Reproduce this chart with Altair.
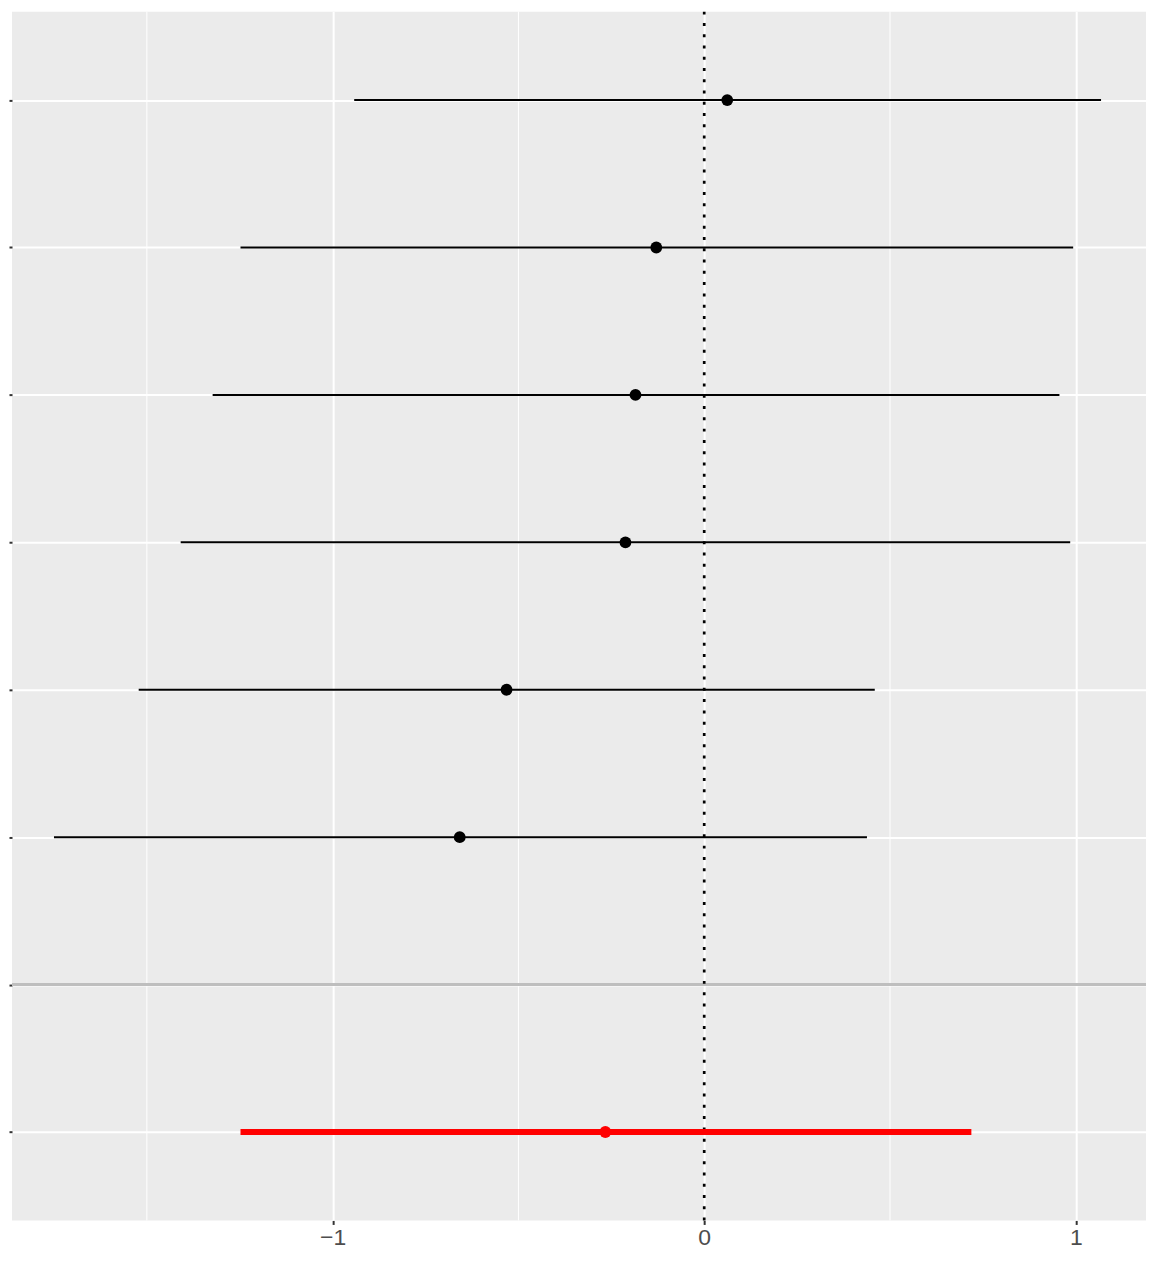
import altair as alt
import pandas as pd

# Row order (top to bottom); labels are hidden in the reference
rows = ["Study 1", "Study 2", "Study 3", "Study 4", "Study 5", "Study 6", "sep", "Overall"]

study_rows = ["Study 1", "Study 2", "Study 3", "Study 4", "Study 5", "Study 6"]
study_est = [0.062, -0.129, -0.185, -0.212, -0.532, -0.658]
study_lo = [-0.942, -1.248, -1.323, -1.409, -1.522, -1.750]
study_hi = [1.068, 0.993, 0.956, 0.985, 0.459, 0.438]

overall_row = ["Overall"]
overall_est = [-0.266]
overall_lo = [-1.248]
overall_hi = [0.719]

major_ticks = [-1, 0, 1]
minor_ticks = [-1.5, -0.5, 0.5]
x_domain = [-1.863, 1.189]

studies = pd.DataFrame({"row": study_rows, "est": study_est, "lo": study_lo, "hi": study_hi})
overall = pd.DataFrame({"row": overall_row, "est": overall_est, "lo": overall_lo, "hi": overall_hi})
minor = pd.DataFrame({"x": minor_ticks})
sep = pd.DataFrame({"row": ["sep"]})
zero = pd.DataFrame({"x": [0]})

FONT = "Liberation Sans"

xscale = alt.Scale(domain=x_domain, nice=False, zero=False)
yscale = alt.Scale(type="point", domain=rows, padding=0.6)

xaxis = alt.Axis(
    values=major_ticks, format="d", title=None, grid=True, gridColor="white", gridWidth=2,
    domain=False, tickColor="#333333", tickSize=4, tickWidth=2,
    labelColor="#4D4D4D", labelFontSize=23, labelFont=FONT, labelPadding=2,
)
yaxis = alt.Axis(
    title=None, labels=False, grid=True, gridColor="white", gridWidth=2,
    domain=False, tickColor="#333333", tickSize=3, tickWidth=2,
)

minor_grid = alt.Chart(minor).mark_rule(color="white", strokeWidth=1).encode(
    x=alt.X("x:Q", scale=xscale, axis=xaxis)
)

sep_line = alt.Chart(sep).mark_rule(color="#BEBEBE", strokeWidth=3).encode(
    y=alt.Y("row:N", scale=yscale, axis=yaxis)
)

zero_line = alt.Chart(zero).mark_rule(color="black", strokeWidth=2.7, strokeDash=[3, 8.3]).encode(
    x=alt.X("x:Q", scale=xscale, axis=xaxis)
)

study_bars = alt.Chart(studies).mark_rule(color="black", strokeWidth=2).encode(
    x=alt.X("lo:Q", scale=xscale, axis=xaxis),
    x2="hi:Q",
    y=alt.Y("row:N", scale=yscale, axis=yaxis),
)
study_pts = alt.Chart(studies).mark_circle(color="black", size=140, opacity=1).encode(
    x=alt.X("est:Q", scale=xscale, axis=xaxis),
    y=alt.Y("row:N", scale=yscale, axis=yaxis),
)

overall_bar = alt.Chart(overall).mark_rule(color="#FF0000", strokeWidth=6).encode(
    x=alt.X("lo:Q", scale=xscale, axis=xaxis),
    x2="hi:Q",
    y=alt.Y("row:N", scale=yscale, axis=yaxis),
)
overall_pt = alt.Chart(overall).mark_circle(color="#FF0000", size=140, opacity=1).encode(
    x=alt.X("est:Q", scale=xscale, axis=xaxis),
    y=alt.Y("row:N", scale=yscale, axis=yaxis),
)

chart = alt.layer(
    minor_grid, sep_line, zero_line, study_bars, overall_bar, study_pts, overall_pt
).properties(
    width=1137, height=1212, padding=0, background="white"
).configure_view(
    fill="#EBEBEB", stroke=None
).configure_axis(
    labelFontSize=23, labelFont=FONT, labelColor="#4D4D4D"
)

chart.save("out.html", embed_options={"renderer": "svg", "actions": False})
